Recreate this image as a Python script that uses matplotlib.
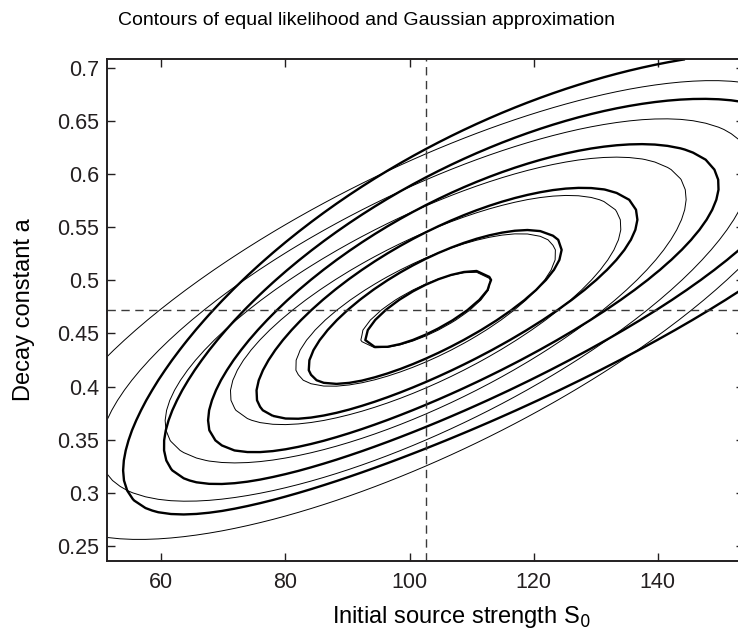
import numpy as np
import matplotlib
matplotlib.use("Agg")
import matplotlib.pyplot as plt

plt.rcParams["font.family"] = ["Liberation Sans", "DejaVu Sans"]

# maximum-likelihood estimate (dashed cross-hair)
S0_HAT = 102.6
A_HAT = 0.472

# contours drawn at 1..6 "sigma" from the peak
SIGMA_LEVELS = [1, 2, 3, 4, 5, 6]

# Gaussian approximation (thin lines)
GAUSS_SD_S0 = 10.5
GAUSS_SD_A = 0.036
GAUSS_RHO = 0.733

# likelihood (thick lines): close to Gaussian in S0**0.25 and sqrt(a)
LIK_POW_S0 = 0.25
LIK_POW_A = 0.5
LIK_SD_U = 0.079
LIK_SD_V = 0.0264
LIK_RHO = 0.762

X_TICKS = [60, 80, 100, 120, 140]
Y_TICKS = [0.25, 0.3, 0.35, 0.4, 0.45, 0.5, 0.55, 0.6, 0.65, 0.7]

TITLE = "Contours of equal likelihood and Gaussian approximation"
XLABEL = "Initial source strength S$_0$"
YLABEL = "Decay constant a"


def sigma_dist(zx, zy, rho):
    """Mahalanobis distance for a correlated 2-d normal."""
    return np.sqrt((zx**2 - 2 * rho * zx * zy + zy**2) / (1 - rho**2))


# grid spans 50%..150% of the estimate, like the original
s0 = np.linspace(0.5, 1.5, 51) * S0_HAT
a = np.linspace(0.5, 1.5, 51) * A_HAT
S, A = np.meshgrid(s0, a)

gauss = sigma_dist((S - S0_HAT) / GAUSS_SD_S0, (A - A_HAT) / GAUSS_SD_A, GAUSS_RHO)
lik = sigma_dist((S**LIK_POW_S0 - S0_HAT**LIK_POW_S0) / LIK_SD_U,
                 (A**LIK_POW_A - A_HAT**LIK_POW_A) / LIK_SD_V, LIK_RHO)

fig = plt.figure(figsize=(7.38, 6.42), dpi=100)
# right edge of the box falls just outside the picture, as in the original
ax = fig.add_axes([0.1454, 0.1266, 0.8627, 0.781])

ax.contour(S, A, lik, levels=SIGMA_LEVELS, colors="k", linewidths=1.7)
ax.contour(S, A, gauss, levels=SIGMA_LEVELS, colors="k", linewidths=0.7)
ax.axvline(S0_HAT, color="#3a3a3a", ls=(0, (6, 4)), lw=1.0)
ax.axhline(A_HAT, color="#3a3a3a", ls=(0, (6, 4)), lw=1.0)

ax.set_xlim(s0[0], s0[-1])
ax.set_ylim(a[0], a[-1])
ax.set_xticks(X_TICKS)
ax.set_yticks(Y_TICKS)
ax.set_yticklabels([f"{v:g}" for v in Y_TICKS])
ax.tick_params(direction="in", length=6, width=1.0, top=True, right=True,
               labelsize=15.5, colors="#231f20")
ax.tick_params(axis="x", pad=8)
ax.tick_params(axis="y", pad=6)
for sp in ax.spines.values():
    sp.set_linewidth(1.4)
    sp.set_color("#231f20")

fig.text(366.5 / 738, 1 - 25 / 642, TITLE, ha="center", va="baseline",
         fontsize=14)
fig.text(461.7 / 738, 1 - 623 / 642, XLABEL, ha="center", va="baseline",
         fontsize=17)
fig.text(24 / 738, 1 - 310 / 642, YLABEL, ha="center", va="center",
         rotation=90, fontsize=17)

fig.savefig("out.png", dpi=100)
plt.close(fig)
